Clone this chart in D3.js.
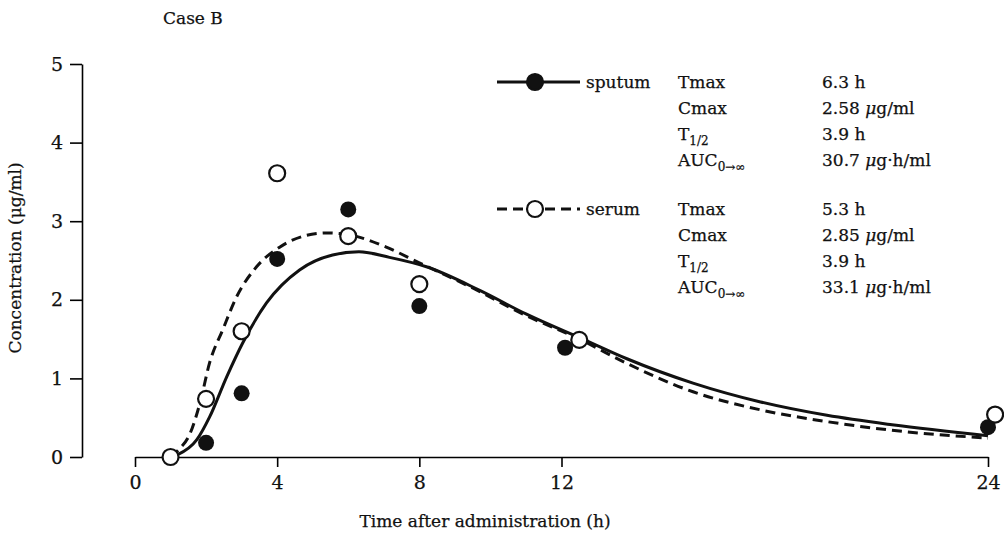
<!DOCTYPE html>
<html>
<head>
<meta charset="utf-8">
<script src="https://cdn.jsdelivr.net/npm/d3@7"></script>
<style>
  body { margin: 0; background: #fff; }
  svg text { font-family: "DejaVu Serif", "Liberation Serif", serif; fill: #111; stroke: #111; stroke-width: 0.25; }
</style>
</head>
<body>
<svg id="chart" width="1004" height="537"></svg>
<script>
// measured points (time h, concentration ug/ml)
let sputumT = [1, 2, 3, 4, 6, 8, 12.1, 24];
let sputumC = [0, 0.18, 0.81, 2.52, 3.15, 1.92, 1.39, 0.38];
let serumT = [1, 2, 3, 4, 6, 8, 12.5, 24.2];
let serumC = [0, 0.74, 1.6, 3.61, 2.81, 2.2, 1.49, 0.54];

// fitted curves
let sputumFitT = [1, 1.2, 1.74, 2.1, 2.58, 3.03, 3.7, 4.63, 5.56, 6.3, 7.16, 8.2, 9.7, 11, 12.7, 13.84, 15.7, 17.6, 19.47, 21.3, 24];
let sputumFitC = [0, 0.03, 0.22, 0.51, 1.02, 1.45, 1.96, 2.38, 2.57, 2.61, 2.54, 2.42, 2.12, 1.82, 1.48, 1.25, 0.94, 0.70, 0.53, 0.41, 0.27];
let serumFitT = [1, 1.2, 1.55, 1.83, 2.1, 2.47, 2.86, 3.42, 4.07, 4.83, 5.4, 6.1, 7.07, 8.0, 9.5, 11, 12.5, 13.84, 15.7, 17.6, 19.47, 21.3, 24];
let serumFitC = [0, 0.08, 0.3, 0.69, 1.2, 1.62, 2.04, 2.42, 2.67, 2.82, 2.85, 2.82, 2.67, 2.47, 2.15, 1.8, 1.5, 1.19, 0.83, 0.60, 0.45, 0.34, 0.24];

let xTicks = [0, 4, 8, 12, 24];
let yTicks = [0, 1, 2, 3, 4, 5];

let sputumStats = [["Tmax", "6.3 h"], ["Cmax", "2.58 μg/ml"], ["T1/2", "3.9 h"], ["AUC", "30.7 μg·h/ml"]];
let serumStats = [["Tmax", "5.3 h"], ["Cmax", "2.85 μg/ml"], ["T1/2", "3.9 h"], ["AUC", "33.1 μg·h/ml"]];

let svg = d3.select("#chart");

let x = d3.scaleLinear().domain([0, 24]).range([135, 988]);
let y = d3.scaleLinear().domain([0, 5]).range([457, 64]);

// axes
svg.append("g")
    .attr("transform", "translate(82,0)")
    .call(d3.axisLeft(y).tickValues(yTicks).tickFormat(d3.format("d")).tickSize(12).tickSizeOuter(0).tickPadding(7))
    .call(g => g.select(".domain").attr("stroke-width", 1.6))
    .call(g => g.selectAll(".tick line").attr("stroke-width", 1.6))
    .call(g => g.selectAll("text").attr("font-size", 19).attr("font-family", "Liberation Serif"));

svg.append("g")
    .attr("transform", "translate(0,457)")
    .call(d3.axisBottom(x).tickValues(xTicks).tickSize(10).tickSizeOuter(0).tickPadding(9))
    .call(g => g.select(".domain").attr("stroke-width", 1.6))
    .call(g => g.selectAll(".tick line").attr("stroke-width", 1.6))
    .call(g => g.selectAll("text").attr("font-size", 19).attr("font-family", "Liberation Serif"));

// titles
svg.append("text").attr("x", 163).attr("y", 24).attr("font-size", 17).text("Case B");
svg.append("text").attr("x", 485).attr("y", 527).attr("text-anchor", "middle").attr("font-size", 17)
    .text("Time after administration (h)");
svg.append("text").attr("transform", "translate(21,258) rotate(-90)").attr("text-anchor", "middle").attr("font-size", 17)
    .text("Concentration (μg/ml)");

// curves
let line = d3.line().x(d => x(d[0])).y(d => y(d[1])).curve(d3.curveMonotoneX);

svg.append("path")
    .datum(serumFitT.map((t, i) => [t, serumFitC[i]]))
    .attr("d", line).attr("fill", "none").attr("stroke", "#111")
    .attr("stroke-width", 3).attr("stroke-dasharray", "10,6");

svg.append("path")
    .datum(sputumFitT.map((t, i) => [t, sputumFitC[i]]))
    .attr("d", line).attr("fill", "none").attr("stroke", "#111").attr("stroke-width", 3);

// points
svg.append("g").selectAll("circle")
    .data(sputumT.map((t, i) => [t, sputumC[i]]))
    .join("circle")
    .attr("cx", d => x(d[0])).attr("cy", d => y(d[1])).attr("r", 8)
    .attr("fill", "#111");

svg.append("g").selectAll("circle")
    .data(serumT.map((t, i) => [t, serumC[i]]))
    .join("circle")
    .attr("cx", d => x(d[0])).attr("cy", d => y(d[1])).attr("r", 8)
    .attr("fill", "#fff").attr("stroke", "#111").attr("stroke-width", 2.2);

// legend blocks
function legendBlock(top, name, stats, dashed) {
    let g = svg.append("g").attr("transform", `translate(0,${top})`);
    g.append("line").attr("x1", 497).attr("x2", 580).attr("y1", 0).attr("y2", 0)
        .attr("stroke", "#111").attr("stroke-width", 3)
        .attr("stroke-dasharray", dashed ? "10,6" : null);
    g.append("circle").attr("cx", 535).attr("cy", 0).attr("r", 8)
        .attr("fill", dashed ? "#fff" : "#111").attr("stroke", "#111").attr("stroke-width", 2.2);
    g.append("text").attr("x", 586).attr("y", 6).attr("font-size", 17).text(name);

    stats.forEach((s, i) => {
        let t = g.append("text").attr("x", 678).attr("y", 6 + i * 26).attr("font-size", 17);
        if (s[0] == "T1/2") {
            t.append("tspan").text("T");
            t.append("tspan").attr("dy", 5).attr("font-size", 12).text("1/2");
        } else if (s[0] == "AUC") {
            t.append("tspan").text("AUC");
            t.append("tspan").attr("dy", 5).attr("font-size", 12).text("0→∞");
        } else {
            t.text(s[0]);
        }
        let v = g.append("text").attr("x", 822).attr("y", 6 + i * 26).attr("font-size", 17);
        let parts = s[1].split("μ");
        v.append("tspan").text(parts[0]);
        if (parts.length > 1) {
            v.append("tspan").attr("font-style", "italic").text("μ");
            v.append("tspan").text(parts[1]);
        }
    });
}

legendBlock(82, "sputum", sputumStats, false);
legendBlock(209, "serum", serumStats, true);
</script>
</body>
</html>
